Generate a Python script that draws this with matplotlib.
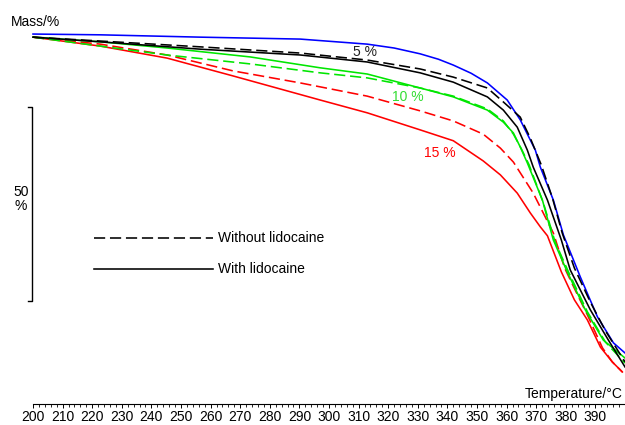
"""Thermogravimetric curves (mass loss vs temperature) with and without lidocaine."""

import matplotlib
matplotlib.use("Agg")
import matplotlib.pyplot as plt
from matplotlib.ticker import MultipleLocator

plt.rcParams["font.family"] = ["Liberation Sans", "DejaVu Sans"]

# --- data (temperature in C, mass in %) ---
T_BLUE = [200.0, 222.7, 256.5, 290.3, 312.9, 322.0, 330.8, 337.0, 342.0, 348.0,
          353.5, 360.2, 364.6, 369.7, 371.4, 375.8, 379.2, 384.9, 390.7,
          396.1, 400.0]
M_BLUE = [100.5, 100.3, 99.7, 99.2, 97.9, 96.9, 95.4, 94.0, 92.5, 90.4,
          87.9, 83.5, 78.4, 70.6, 66.2, 57.7, 48.7, 37.9, 27.6,
          20.9, 18.3]

T_5_WITHOUT = [200.0, 222.7, 256.5, 290.3, 312.9, 330.8, 342.0, 353.5, 358.9,
               364.6, 368.0, 371.7, 375.5, 378.8, 382.9, 388.3, 393.4, 400.0]
M_5_WITHOUT = [99.7, 98.7, 97.2, 95.6, 93.8, 91.5, 89.4, 86.6, 83.0,
               79.1, 73.7, 66.8, 58.2, 49.2, 40.2, 31.4, 24.0, 16.0]

T_5_WITH = [200.0, 222.7, 256.5, 290.3, 312.9, 330.8, 342.0, 353.5, 358.9,
            363.6, 367.0, 369.0, 373.8, 378.5, 381.5, 388.3, 394.4, 400.0]
M_5_WITH = [99.7, 98.5, 96.6, 95.1, 93.3, 90.5, 88.1, 84.3, 80.9,
            76.5, 70.6, 66.2, 57.7, 47.4, 39.7, 29.4, 21.6, 14.7]

T_10_WITH = [200.0, 222.7, 245.3, 273.4, 297.0, 312.9, 330.8, 342.0, 353.5,
             358.9, 362.3, 364.6, 367.0, 372.1, 375.8, 380.2, 386.6, 392.7, 400.0]
M_10_WITH = [99.7, 98.5, 96.9, 94.6, 91.8, 90.2, 86.6, 84.3, 80.9,
             77.8, 75.0, 71.4, 67.3, 57.7, 47.4, 39.7, 29.4, 21.6, 17.0]

T_10_WITHOUT = [200.0, 222.7, 245.3, 273.4, 297.0, 312.9, 330.8, 342.0, 353.5,
                358.9, 362.3, 365.0, 367.6, 372.4, 376.4, 380.9, 387.3, 393.4, 400.0]
M_10_WITHOUT = [99.7, 97.4, 95.1, 92.8, 90.5, 89.2, 86.6, 84.5, 81.2,
                78.1, 74.7, 70.9, 66.8, 57.0, 46.9, 39.2, 28.9, 21.1, 15.7]

T_15_WITH = [200.0, 222.7, 245.3, 267.6, 297.0, 312.9, 330.8, 342.0, 352.1,
             357.9, 363.6, 368.0, 371.4, 373.8, 378.5, 382.9, 387.3, 391.7,
             395.7, 399.1]
M_15_WITH = [99.7, 97.4, 94.3, 89.7, 83.5, 80.2, 75.8, 73.0, 67.8,
             64.2, 59.5, 54.4, 50.8, 48.5, 39.2, 32.0, 26.8, 19.8,
             16.0, 13.4]

T_15_WITHOUT = [200.0, 222.7, 245.3, 267.6, 290.3, 312.9, 330.8, 342.0, 352.1,
                357.9, 362.3, 369.0, 375.8, 379.6, 383.5, 387.3, 392.4, 395.7,
                399.1]
M_15_WITHOUT = [99.7, 97.9, 95.1, 91.0, 87.9, 84.5, 80.7, 78.1, 74.7,
                71.1, 67.5, 59.5, 49.2, 40.2, 34.0, 28.1, 19.6, 16.0,
                13.4]

XTICKS = list(range(200, 400, 10))

BLUE = "#0000ff"
GREEN = "#00e600"
RED = "#ff0000"
BLACK = "#000000"
DASH = (0, (7, 3))

fig = plt.figure(figsize=(6.25, 4.25), dpi=100)
ax = fig.add_axes([33 / 625, 21 / 425, 592 / 625, 384 / 425])
ax.set_xlim(200, 400)
ax.set_ylim(5.15, 104.12)

lw = 1.15
ax.plot(T_BLUE, M_BLUE, color=BLUE, lw=lw, clip_on=False)
ax.plot(T_15_WITH, M_15_WITH, color=RED, lw=lw, clip_on=False)
ax.plot(T_15_WITHOUT, M_15_WITHOUT, color=RED, lw=lw, ls=DASH, clip_on=False)
ax.plot(T_10_WITH, M_10_WITH, color=GREEN, lw=lw, clip_on=False)
ax.plot(T_10_WITHOUT, M_10_WITHOUT, color=GREEN, lw=lw, ls=DASH, clip_on=False)
ax.plot(T_5_WITH, M_5_WITH, color=BLACK, lw=lw, clip_on=False)
ax.plot(T_5_WITHOUT, M_5_WITHOUT, color=BLACK, lw=lw, ls=DASH, clip_on=False)

# curve labels
ax.text(312.2, 95.9, "5 %", color="#222222", fontsize=10, ha="center", va="center")
ax.text(326.6, 84.3, "10 %", color="#33dd33", fontsize=10, ha="center", va="center")
ax.text(337.3, 69.8, "15 %", color=RED, fontsize=10, ha="center", va="center")

# 50 % scale bar
ax.plot([198.3, 199.7, 199.7, 198.3], [81.7, 81.7, 31.7, 31.7],
        color="black", lw=1.0, clip_on=False)
ax.text(195.9, 58.0, "50\n%", fontsize=10, ha="center", va="center",
        linespacing=1.0)

# line style key
ax.plot([220.6, 260.9], [47.9, 47.9], color="black", lw=lw, ls=DASH)
ax.plot([220.6, 260.9], [39.9, 39.9], color="black", lw=lw)
ax.text(262.6, 47.9, "Without lidocaine", fontsize=10, va="center")
ax.text(262.6, 39.9, "With lidocaine", fontsize=10, va="center")

# axes decoration: only the bottom temperature axis
for side in ("left", "right", "top"):
    ax.spines[side].set_visible(False)
ax.spines["bottom"].set_linewidth(0.8)
ax.set_yticks([])
ax.set_xticks(XTICKS)
ax.set_xticklabels([str(t) for t in XTICKS], fontsize=10)
ax.xaxis.set_minor_locator(MultipleLocator(2))
ax.tick_params(axis="x", which="major", length=3, width=0.7, pad=1.5)
ax.tick_params(axis="x", which="minor", length=2.5, width=0.6)

fig.text(623 / 625, 1 - 394 / 425, "Temperature/\u00b0C", fontsize=10,
         ha="right", va="center")
fig.text(11 / 625, 1 - 22 / 425, "Mass/%", fontsize=10, ha="left", va="center")

fig.savefig("out.png", dpi=100)
